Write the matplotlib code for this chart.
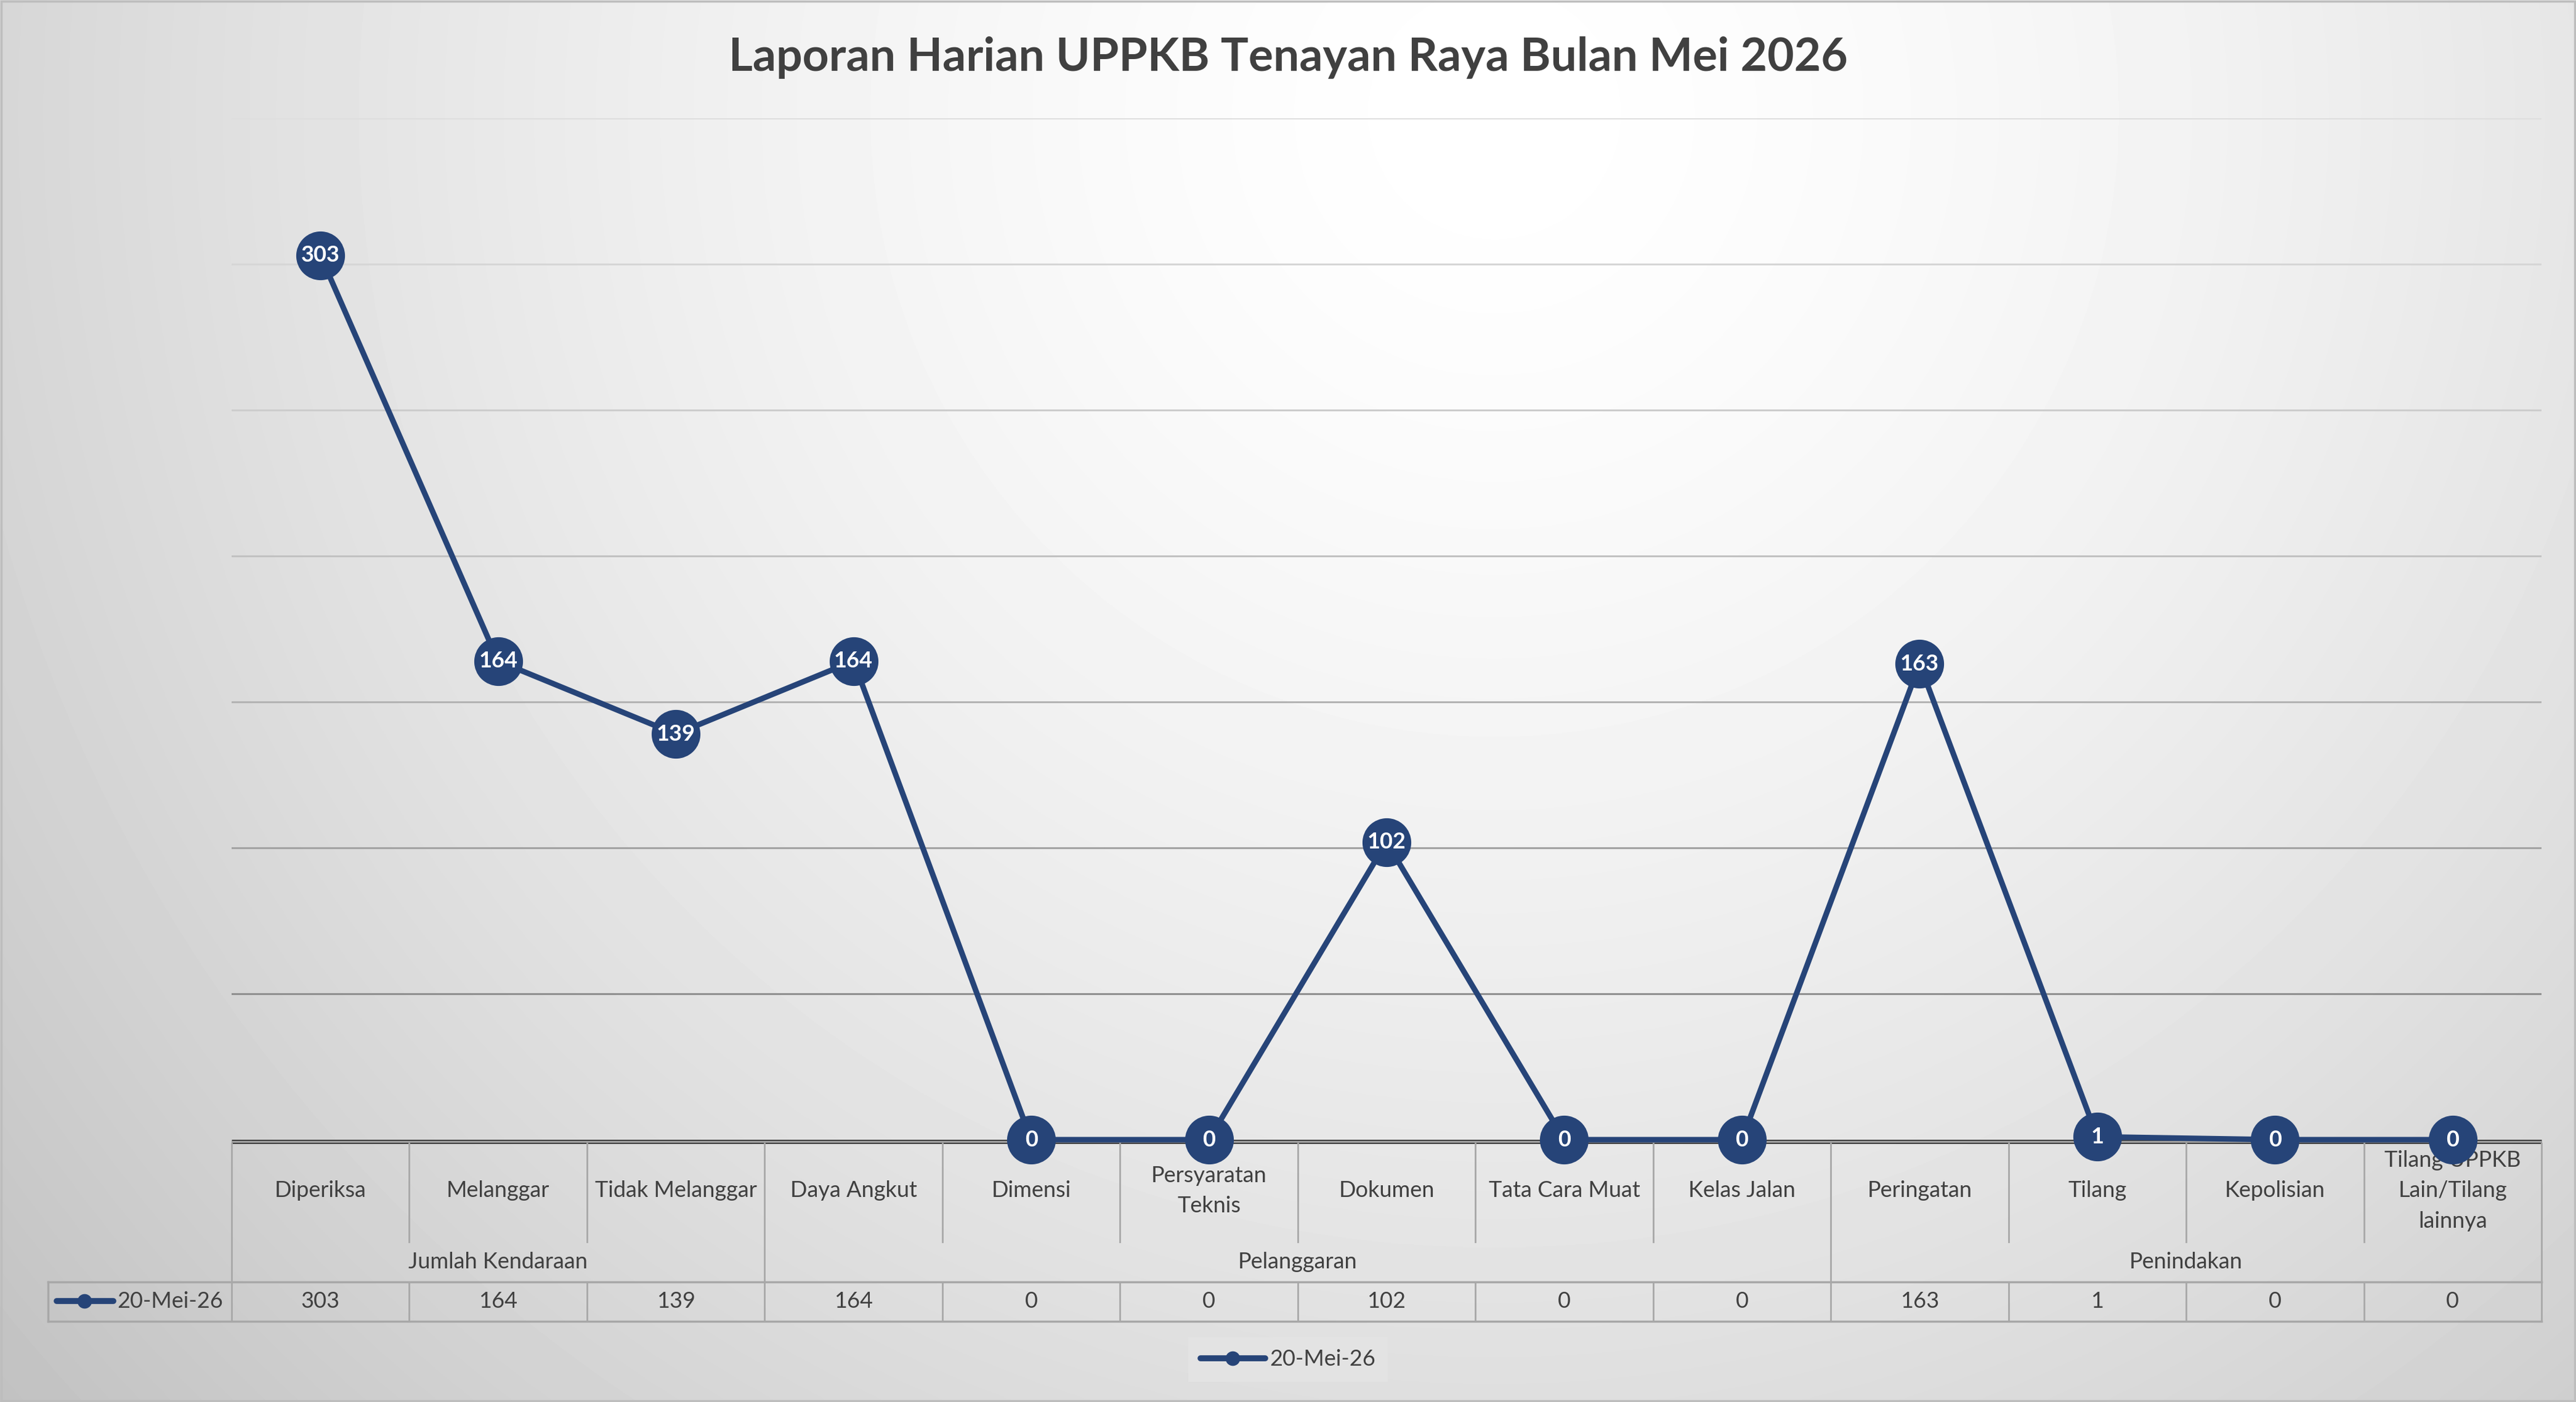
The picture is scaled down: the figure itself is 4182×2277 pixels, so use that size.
import numpy as np
import matplotlib.pyplot as plt
import matplotlib.transforms as mtransforms
from matplotlib.patches import Rectangle

plt.rcParams['font.family'] = ['Lato', 'DejaVu Sans']

# data
title = 'Laporan Harian UPPKB Tenayan Raya Bulan Mei 2026'
categories = ['Diperiksa', 'Melanggar', 'Tidak Melanggar', 'Daya Angkut', 'Dimensi',
              'Persyaratan\nTeknis', 'Dokumen', 'Tata Cara Muat', 'Kelas Jalan',
              'Peringatan', 'Tilang', 'Kepolisian', 'Tilang UPPKB\nLain/Tilang\nlainnya']
groups = ['Jumlah Kendaraan', 'Pelanggaran', 'Penindakan']
group_sizes = [3, 6, 4]
series_name = '20-Mei-26'
values = [303, 164, 139, 164, 0, 0, 102, 0, 0, 163, 1, 0, 0]
yticks = [0, 50, 100, 150, 200, 250, 300, 350]

W, H = 4182, 2277
DPI = 100
BLUE = '#264478'
TXT = '#404040'
TBL = '#a8a8a8'
FS = 26

fig = plt.figure(figsize=(W / DPI, H / DPI), dpi=DPI)

# background canvas in pixel coords (y down)
bg = fig.add_axes([0, 0, 1, 1], zorder=-10)
yy, xx = np.mgrid[0:H:4, 0:W:4]
d = np.hypot((xx - 0.58 * W) / W, (yy - 0.08 * H) / W)
shade = 1 - 0.36 * d ** 1.5
bg.imshow(shade, cmap='gray', vmin=0, vmax=1, extent=[0, W, H, 0],
          aspect='auto', interpolation='bilinear')
bg.set_xlim(0, W)
bg.set_ylim(H, 0)
bg.axis('off')
bg.add_patch(Rectangle((2, 2), W - 4, H - 4, fill=False, ec='#bdbdbd', lw=2.5))

# main plot area
x_left, x_right, y_top, y_base = 376, 4126, 192, 1851
ax = fig.add_axes([x_left / W, 1 - y_base / H, (x_right - x_left) / W, (y_base - y_top) / H])
ax.set_facecolor('none')
ax.set_xlim(-0.5, len(values) - 0.5)
ax.set_ylim(yticks[0], yticks[-1])
for s in ax.spines.values():
    s.set_visible(False)
ax.set_xticks([])
ax.set_yticks([])

grid_cols = ['#8f8f8f', '#a2a2a2', '#b3b3b3', '#c2c2c2', '#cdcdcd', '#d6d6d6', '#dedede']
for t, c in zip(yticks[1:], grid_cols):
    ax.axhline(t, color=c, lw=2.2, zorder=1)

x = np.arange(len(values))
ax.plot(x, values, color=BLUE, lw=6.5, marker='o', ms=56, mfc=BLUE, mec=BLUE,
        zorder=5, clip_on=False, label=series_name)
for xi, v in zip(x, values):
    ax.text(xi, v, str(v), ha='center', va='center', color='white', fontsize=26,
            fontweight='bold', zorder=6, clip_on=False)

# title
fig.text(0.5, 1 - 115 / H, title, ha='center', va='baseline', fontsize=54,
         fontweight='bold', color=TXT)

# data table below the axis (x from categories, y in pixels)
tx = mtransforms.blended_transform_factory(ax.transData, bg.transData)
row_top, row_bot = 2082, 2146
bg.plot([x_left, x_right], [1853.5, 1853.5], color='#404040', lw=5, solid_capstyle='butt')
bg.plot([x_left, x_right], [1853.5, 1853.5], color='#a6a6a6', lw=2.0, solid_capstyle='butt')

for i, cat in enumerate(categories):
    bg.text(i, 1934, cat, transform=tx, ha='center', va='center', fontsize=FS,
            color=TXT, linespacing=1.6, multialignment='center')
    bg.text(i, 2114, str(values[i]), transform=tx, ha='center', va='center',
            fontsize=FS, color=TXT)

bounds = np.cumsum([0] + group_sizes) - 0.5
for g, lo, hi in zip(groups, bounds[:-1], bounds[1:]):
    bg.text((lo + hi) / 2, 2049, g, transform=tx, ha='center', va='center',
            fontsize=FS, color=TXT)
for b in np.arange(-0.5, len(values)):
    if b in bounds:
        bg.plot([b, b], [1857, row_bot], transform=tx, color=TBL, lw=2)
    else:
        bg.plot([b, b], [1857, 2017], transform=tx, color=TBL, lw=2)
        bg.plot([b, b], [row_top, row_bot], transform=tx, color=TBL, lw=2)

bg.plot([78, x_right], [row_top, row_top], color=TBL, lw=2.5)
bg.plot([78, x_right], [row_bot, row_bot], color=TBL, lw=2.5)
bg.plot([78, 78], [row_top, row_bot], color=TBL, lw=2.5)

# legend key inside the data row
bg.plot([92, 184], [2113, 2113], color=BLUE, lw=7, solid_capstyle='round')
bg.plot([137], [2113], marker='o', ms=16, color=BLUE)
bg.text(190, 2114, series_name, ha='left', va='center', fontsize=FS, color=TXT)

# legend at the bottom
leg = fig.legend(loc='center', bbox_to_anchor=(0.5, 1 - 2208 / H), fontsize=FS,
                 facecolor='#e3e3e3', edgecolor='none', framealpha=1, fancybox=False,
                 handlelength=2.9, handletextpad=0.2, borderpad=0.55, labelcolor=TXT)
for h in leg.legend_handles:
    h.set_markersize(16)
    h.set_linewidth(7)
    h.set_solid_capstyle('round')

fig.savefig('out.png', dpi=DPI)
